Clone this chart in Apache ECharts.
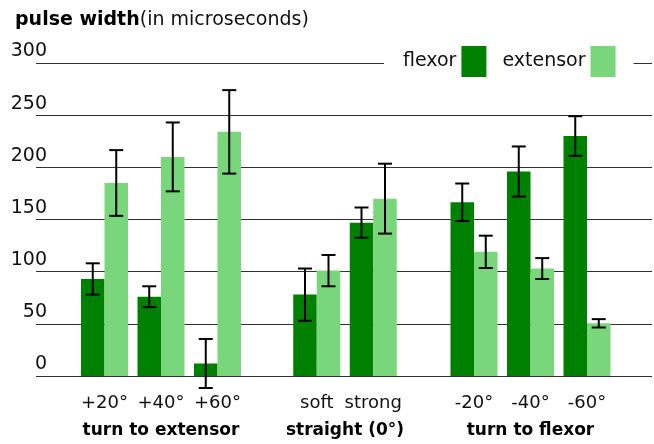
<!DOCTYPE html>
<html>
<head>
<meta charset="utf-8">
<script src="https://cdn.jsdelivr.net/npm/echarts@6/dist/echarts.min.js"></script>
<style>
  html, body { margin: 0; padding: 0; background: #fff; }
  #chart { width: 654px; height: 444px; }
</style>
</head>
<body>
<div id="chart"></div>
<script>
// group names and categories
var groupNames = ['turn to extensor', 'straight (0°)', 'turn to flexor'];
var groupCats = [
  ['+20°', '+40°', '+60°'],
  ['soft', 'strong'],
  ['-20°', '-40°', '-60°']
];
// flexor means / error (+-)
var flexorMean = [[93, 76, 12], [78, 147], [166.5, 196, 230]];
var flexorErr = [[15, 10, 23.5], [25, 14.5], [18, 24, 19]];
// extensor means / error (+-)
var extensorMean = [[185, 210, 234], [101, 170], [119, 103, 50.5]];
var extensorErr = [[31.5, 33, 40], [15, 33.5], [15.5, 10, 4]];
var yTicks = [0, 50, 100, 150, 200, 250, 300];

var font = 'DejaVu Sans';
var dark = '#008000';
var light = '#7ad67a';
var barW = 23.5;

// grid layout (px)
var gridTop = 63, gridBottom = 68;
var groupBoxes = [
  { left: 76.25, width: 169.5 },
  { left: 288.5, width: 113 },
  { left: 445.75, width: 169.5 }
];

function errRenderer(shift) {
  return function(params, api) {
    var c = api.value(0);
    var lo = api.coord([c, api.value(1)]);
    var hi = api.coord([c, api.value(2)]);
    var x = lo[0] + shift;
    var st = { stroke: '#000', lineWidth: 2 };
    return {
      type: 'group',
      children: [
        { type: 'line', shape: { x1: x, y1: lo[1], x2: x, y2: hi[1] }, style: st },
        { type: 'line', shape: { x1: x - 7, y1: lo[1], x2: x + 7, y2: lo[1] }, style: st },
        { type: 'line', shape: { x1: x - 7, y1: hi[1], x2: x + 7, y2: hi[1] }, style: st }
      ]
    };
  };
}

function errData(means, errs) {
  return means.map(function(m, i) { return [i, m - errs[i], m + errs[i]]; });
}

var grids = [{ left: 36, right: 2, top: gridTop, bottom: gridBottom }];
var xAxes = [{ gridIndex: 0, type: 'value', show: false, min: 0, max: 1 }];
var yAxes = [{
  gridIndex: 0, type: 'value', min: 0, max: 300, interval: 50,
  axisLine: { show: false }, axisTick: { show: false },
  splitLine: { lineStyle: { color: '#333', width: 1 } },
  axisLabel: {
    margin: -11, color: '#111', fontSize: 19, fontFamily: font,
    verticalAlign: 'bottom', padding: [0, 0, 2, 0],
    formatter: function(v) { return yTicks.indexOf(v) >= 0 ? String(v) : ''; }
  }
}];
var series = [];

groupBoxes.forEach(function(b, g) {
  var gi = g + 1;
  grids.push({ left: b.left, width: b.width, top: gridTop, bottom: gridBottom });
  xAxes.push({
    gridIndex: gi, type: 'category', data: groupCats[g],
    axisLine: { show: false }, axisTick: { show: false },
    axisLabel: { interval: 0, hideOverlap: false, margin: 18, color: '#111', fontSize: 18, fontFamily: font },
    name: groupNames[g], nameLocation: 'middle', nameGap: 46,
    nameTextStyle: { color: '#000', fontSize: 17, fontWeight: 'bold', fontFamily: font }
  });
  yAxes.push({ gridIndex: gi, type: 'value', min: 0, max: 300, show: false, splitLine: { show: false } });
  series.push({
    name: 'flexor', type: 'bar', xAxisIndex: gi, yAxisIndex: gi,
    data: flexorMean[g], barWidth: barW, barGap: '0%',
    itemStyle: { color: dark }
  });
  series.push({
    name: 'extensor', type: 'bar', xAxisIndex: gi, yAxisIndex: gi,
    data: extensorMean[g], barWidth: barW, barGap: '0%',
    itemStyle: { color: light }
  });
  series.push({
    type: 'custom', xAxisIndex: gi, yAxisIndex: gi, z: 5,
    renderItem: errRenderer(-barW / 2),
    encode: { x: 0, y: [1, 2] },
    data: errData(flexorMean[g], flexorErr[g])
  });
  series.push({
    type: 'custom', xAxisIndex: gi, yAxisIndex: gi, z: 5,
    renderItem: errRenderer(barW / 2),
    encode: { x: 0, y: [1, 2] },
    data: errData(extensorMean[g], extensorErr[g])
  });
});

var chart = echarts.init(document.getElementById('chart'), null, { renderer: 'canvas' });
chart.setOption({
  animation: false,
  backgroundColor: '#fff',
  title: {
    left: 10, top: 6,
    text: '{b|pulse width}{n|(in microseconds)}',
    textStyle: {
      rich: {
        b: { fontSize: 19, fontWeight: 'bold', color: '#000', fontFamily: font },
        n: { fontSize: 19, fontWeight: 'normal', color: '#111', fontFamily: font }
      }
    }
  },
  legend: {
    left: 384, top: 46, width: 268,
    orient: 'horizontal',
    data: ['flexor', 'extensor'],
    align: 'right',
    icon: 'rect',
    itemWidth: 25, itemHeight: 31, itemGap: 16,
    backgroundColor: '#fff',
    padding: [0, 18, 0, 19],
    textStyle: { color: '#111', fontSize: 19, fontFamily: font }
  },
  grid: grids,
  xAxis: xAxes,
  yAxis: yAxes,
  series: series
});
window.addEventListener('resize', function() { chart.resize(); });
</script>
</body>
</html>
